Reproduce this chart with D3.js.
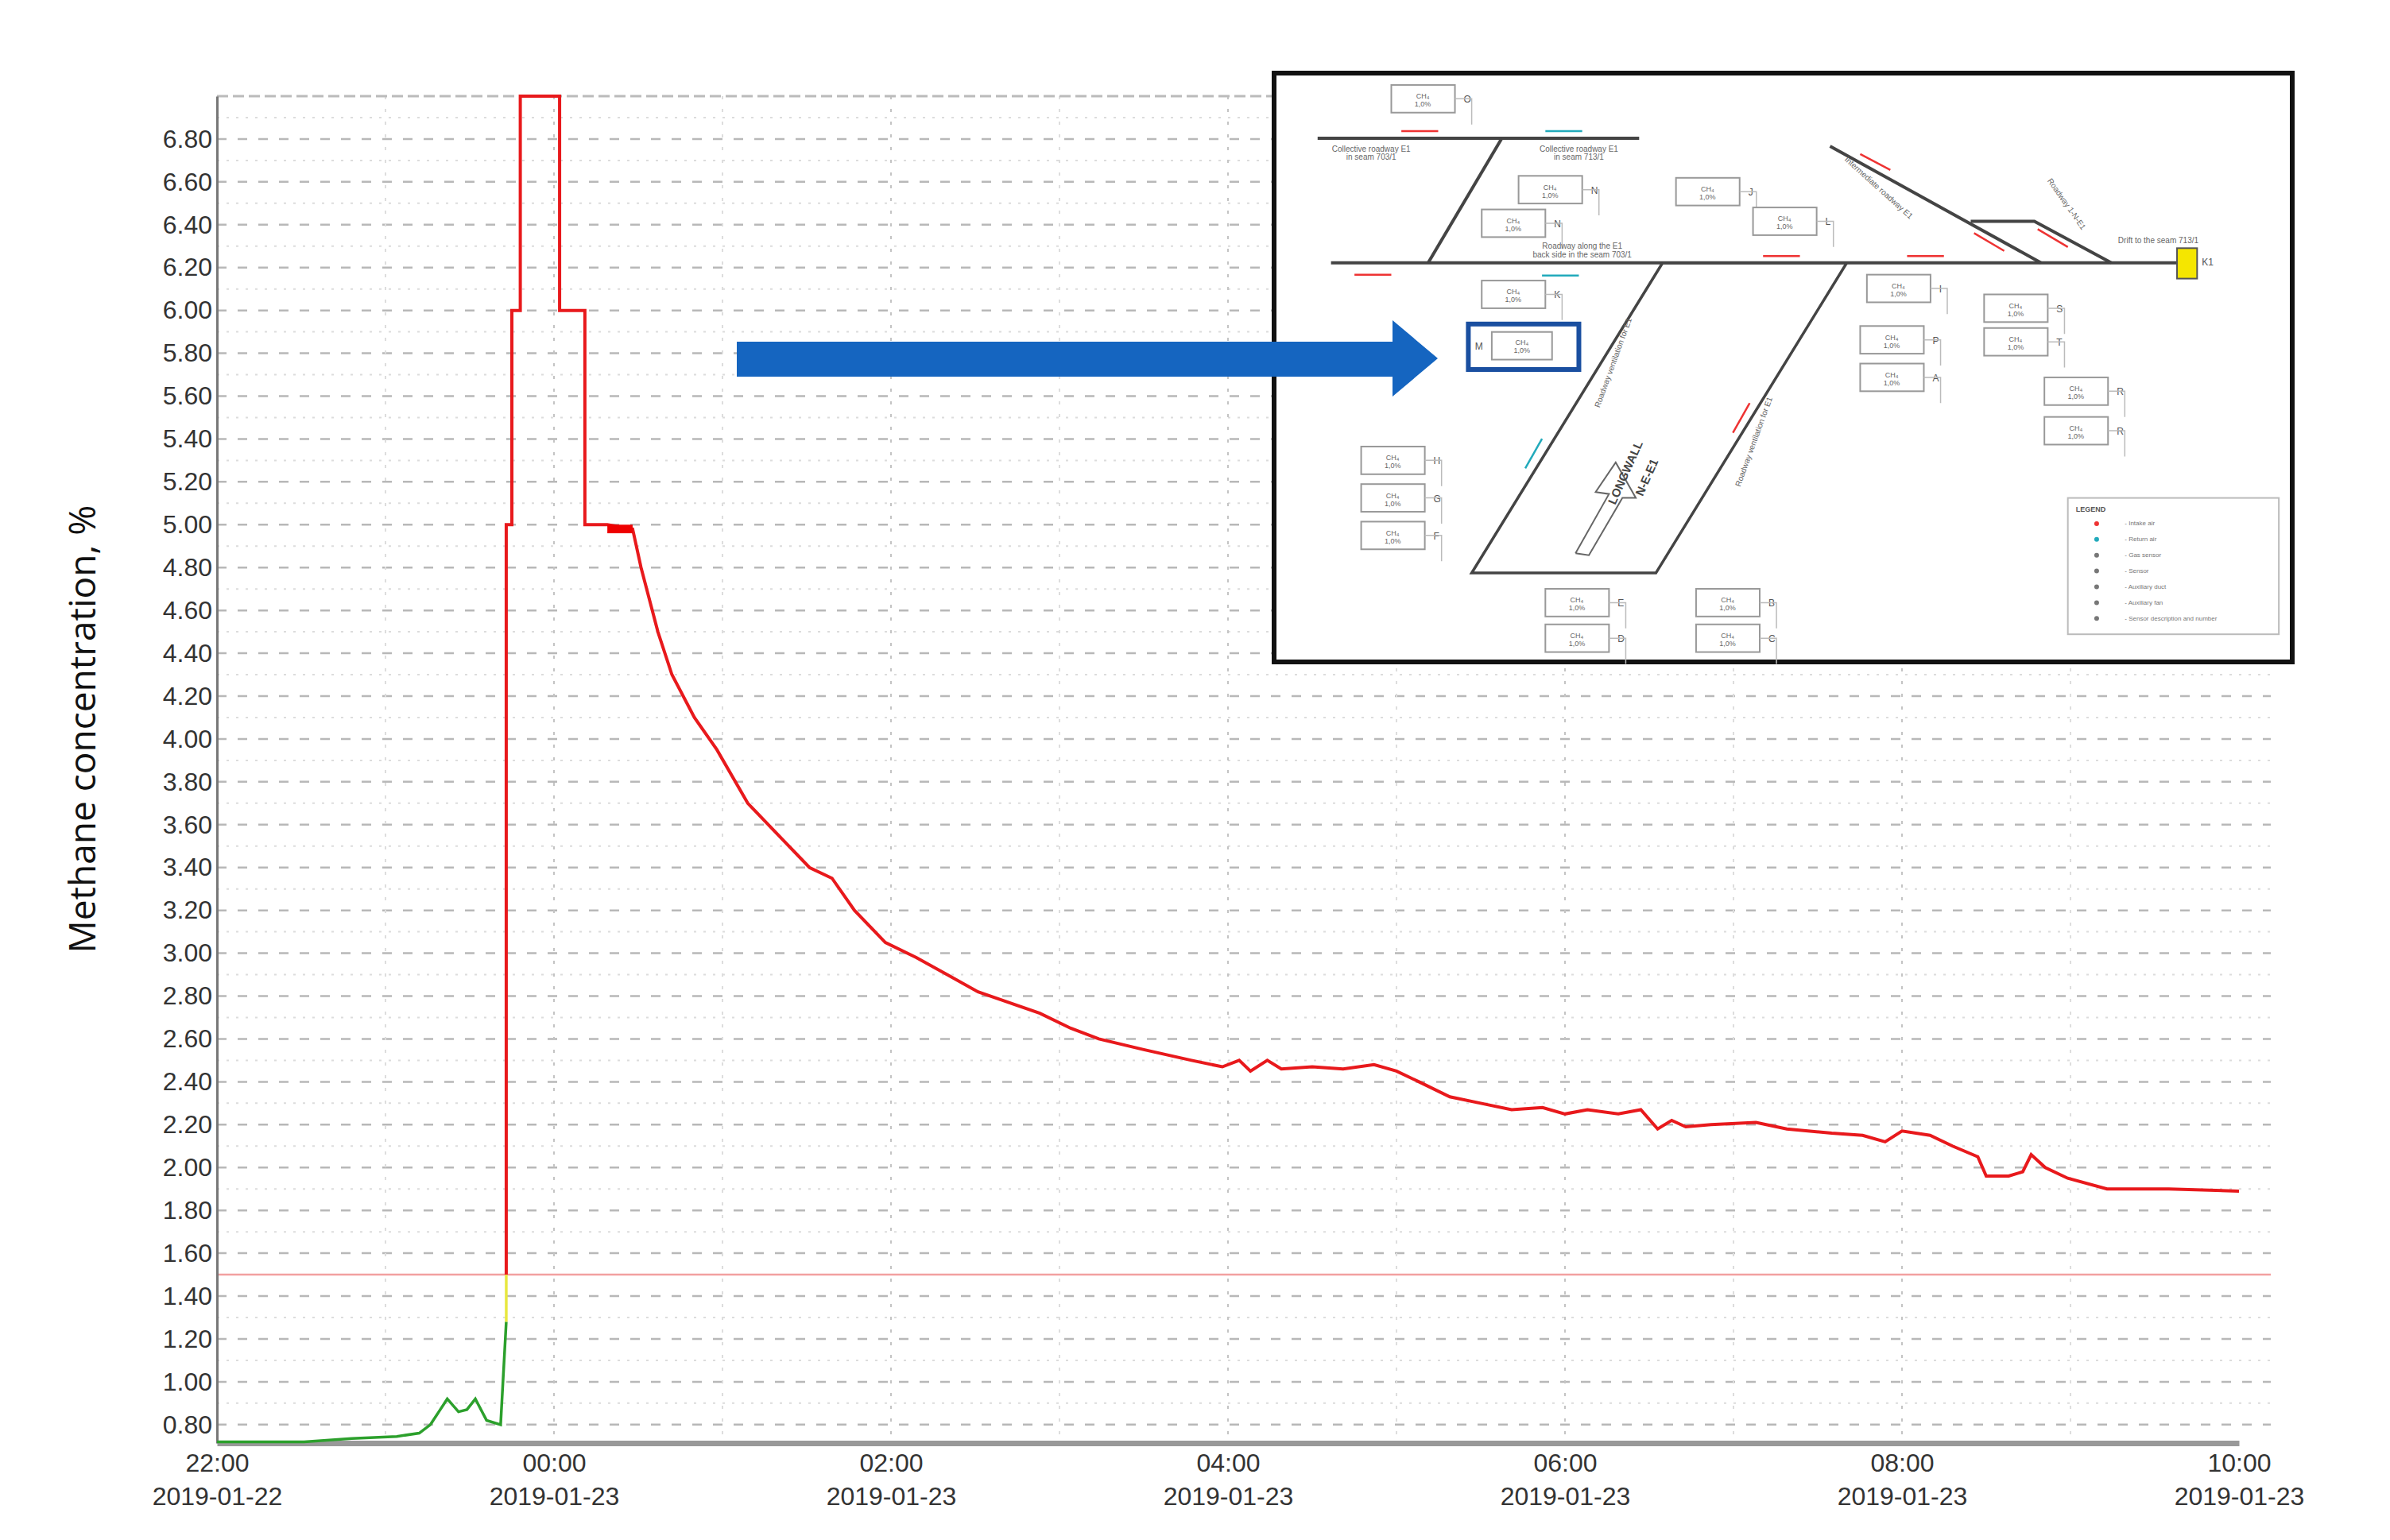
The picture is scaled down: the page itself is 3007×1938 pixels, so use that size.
<!DOCTYPE html>
<html><head><meta charset="utf-8">
<script src="https://cdn.jsdelivr.net/npm/d3@7"></script>
<style>body{margin:0;background:#fff}svg{display:block}svg text{font-family:"Liberation Sans",Arial,sans-serif}</style>
</head><body><div id="chart"></div>
<script>
var width = 3007, height = 1938;
var margin = { left: 273, top: 121, right: 190, bottom: 122 };
var innerW = width - margin.left - margin.right, innerH = height - margin.top - margin.bottom;

// green (below alarm) readings
var greenTimes = ["2019-01-22 22:00","2019-01-22 22:31","2019-01-22 22:48","2019-01-22 23:04","2019-01-22 23:12","2019-01-22 23:16","2019-01-22 23:19","2019-01-22 23:22","2019-01-22 23:26","2019-01-22 23:29","2019-01-22 23:32","2019-01-22 23:36","2019-01-22 23:41","2019-01-22 23:43"];
var greenValues = [0.72,0.72,0.735,0.745,0.76,0.80,0.86,0.92,0.86,0.87,0.92,0.82,0.80,1.28];
// yellow segment
var yellowTimes = ["2019-01-22 23:43","2019-01-22 23:43"];
var yellowValues = [1.28,1.50];
// red (above alarm) readings
var redTimes = ["2019-01-22 23:43","2019-01-22 23:43","2019-01-22 23:45","2019-01-22 23:45","2019-01-22 23:48","2019-01-22 23:48","2019-01-23 00:02","2019-01-23 00:02","2019-01-23 00:11","2019-01-23 00:11","2019-01-23 00:19","2019-01-23 00:28","2019-01-23 00:31","2019-01-23 00:37","2019-01-23 00:42","2019-01-23 00:50","2019-01-23 00:58","2019-01-23 01:09","2019-01-23 01:20","2019-01-23 01:31","2019-01-23 01:39","2019-01-23 01:47","2019-01-23 01:58","2019-01-23 02:09","2019-01-23 02:20","2019-01-23 02:31","2019-01-23 02:42","2019-01-23 02:53","2019-01-23 03:04","2019-01-23 03:14","2019-01-23 03:30","2019-01-23 03:47","2019-01-23 03:58","2019-01-23 04:04","2019-01-23 04:08","2019-01-23 04:14","2019-01-23 04:19","2019-01-23 04:30","2019-01-23 04:41","2019-01-23 04:52","2019-01-23 05:00","2019-01-23 05:08","2019-01-23 05:19","2019-01-23 05:30","2019-01-23 05:41","2019-01-23 05:52","2019-01-23 06:00","2019-01-23 06:08","2019-01-23 06:19","2019-01-23 06:27","2019-01-23 06:33","2019-01-23 06:38","2019-01-23 06:43","2019-01-23 06:52","2019-01-23 07:08","2019-01-23 07:19","2019-01-23 07:35","2019-01-23 07:46","2019-01-23 07:54","2019-01-23 08:00","2019-01-23 08:10","2019-01-23 08:18","2019-01-23 08:27","2019-01-23 08:30","2019-01-23 08:38","2019-01-23 08:43","2019-01-23 08:46","2019-01-23 08:51","2019-01-23 08:59","2019-01-23 09:13","2019-01-23 09:35","2019-01-23 10:00"];
var redValues = [1.50,5.00,5.00,6.00,6.00,7.00,7.00,6.00,6.00,5.00,5.00,4.98,4.80,4.50,4.30,4.10,3.95,3.70,3.55,3.40,3.35,3.20,3.05,2.98,2.90,2.82,2.77,2.72,2.65,2.60,2.55,2.50,2.47,2.50,2.45,2.50,2.46,2.47,2.46,2.48,2.45,2.40,2.33,2.30,2.27,2.28,2.25,2.27,2.25,2.27,2.18,2.22,2.19,2.20,2.21,2.18,2.16,2.15,2.12,2.17,2.15,2.10,2.05,1.96,1.96,1.98,2.06,2.00,1.95,1.90,1.90,1.89];
var alarmLevel = 1.5;
var yTicks = d3.range(0.8, 6.81, 0.2);
var xTickTimes = ["2019-01-22 22:00","2019-01-23 00:00","2019-01-23 02:00","2019-01-23 04:00","2019-01-23 06:00","2019-01-23 08:00","2019-01-23 10:00"];

var parse = d3.timeParse("%Y-%m-%d %H:%M");
var x = d3.scaleTime().domain([parse("2019-01-22 22:00"), parse("2019-01-23 10:00")]).range([0, innerW]);
var y = d3.scaleLinear().domain([0.714, 7.0]).range([innerH, 0]);

var svg = d3.select("#chart").append("svg").attr("width", width).attr("height", height);
var g = svg.append("g").attr("transform", "translate(" + margin.left + "," + margin.top + ")");

// minor grid
g.append("g").selectAll("line").data(d3.range(0.9, 6.95, 0.2)).enter().append("line")
  .attr("x1", 0).attr("x2", innerW + 40).attr("y1", y).attr("y2", y)
  .attr("stroke", "#dcdcdc").attr("stroke-width", 2).attr("stroke-dasharray", "3,9");
g.append("g").selectAll("line").data(yTicks).enter().append("line")
  .attr("x1", 0).attr("x2", innerW + 40).attr("y1", y).attr("y2", y)
  .attr("stroke", "#b8b8b8").attr("stroke-width", 2.5).attr("stroke-dasharray", "12,14");
var hours = d3.timeHour.range(parse("2019-01-22 23:00"), parse("2019-01-23 10:00"));
g.append("g").selectAll("line").data(hours).enter().append("line")
  .attr("x1", x).attr("x2", x).attr("y1", 0).attr("y2", innerH)
  .attr("stroke", function (d) { return d.getHours() % 2 ? "#dddddd" : "#c4c4c4"; })
  .attr("stroke-width", 2).attr("stroke-dasharray", "4,12");
// top border
g.append("line").attr("x1", 0).attr("x2", innerW + 40).attr("y1", 0).attr("y2", 0)
  .attr("stroke", "#bbb").attr("stroke-width", 3).attr("stroke-dasharray", "14,6");
// alarm level
g.append("line").attr("x1", 0).attr("x2", innerW + 40).attr("y1", y(alarmLevel)).attr("y2", y(alarmLevel))
  .attr("stroke", "#f2a0a0").attr("stroke-width", 2.5);

// axes
var yAxis = g.append("g").call(d3.axisLeft(y).tickValues(yTicks).tickFormat(d3.format(".2f")).tickSize(0).tickPadding(6));
yAxis.select(".domain").attr("stroke", "#777").attr("stroke-width", 3);
yAxis.selectAll("text").attr("font-size", 32).attr("fill", "#333");

var xAxis = g.append("g").attr("transform", "translate(0," + innerH + ")")
  .call(d3.axisBottom(x).tickValues(xTickTimes.map(parse)).tickSize(0).tickFormat(""));
xAxis.select(".domain").attr("stroke", "#999").attr("stroke-width", 7);
xAxis.selectAll(".tick").each(function (d) {
  var t = d3.select(this);
  t.append("text").attr("y", 36).attr("text-anchor", "middle").text(d3.timeFormat("%H:%M")(d));
  t.append("text").attr("y", 78).attr("text-anchor", "middle").text(d3.timeFormat("%Y-%m-%d")(d));
});
xAxis.selectAll("text").attr("font-size", 32).attr("fill", "#333");

svg.append("text").attr("transform", "translate(120," + (margin.top + innerH * 0.47) + ") rotate(-90)")
  .attr("text-anchor", "middle").attr("font-size", 46).style("font-family", "Open Sans, Liberation Sans, Arial")
  .attr("fill", "#111").text("Methane concentration, %");

// series
var line = d3.line().x(function (d) { return x(d.t); }).y(function (d) { return y(d.v); });
function series(times, vals) { return times.map(function (t, i) { return { t: parse(t), v: vals[i] }; }); }
g.append("path").datum(series(greenTimes, greenValues)).attr("d", line).attr("fill", "none").attr("stroke", "#2ca02c").attr("stroke-width", 3.5);
g.append("path").datum(series(yellowTimes, yellowValues)).attr("d", line).attr("fill", "none").attr("stroke", "#e8e840").attr("stroke-width", 3.5);
g.append("path").datum(series(redTimes, redValues)).attr("d", line).attr("fill", "none").attr("stroke", "#e8191c").attr("stroke-width", 4);
// thick segment near 5%
g.append("rect").attr("x", x(parse("2019-01-23 00:19"))).attr("y", y(5.0))
  .attr("width", x(parse("2019-01-23 00:28")) - x(parse("2019-01-23 00:19"))).attr("height", y(4.96) - y(5.0)).attr("fill", "#e00");

// inset diagram
var ix = 1603, iy = 92, iw = 1281, ih = 741;
var inset = svg.append("g").attr("transform", "translate(" + ix + "," + iy + ")");
inset.append("rect").attr("width", iw).attr("height", ih).attr("fill", "#fff").attr("stroke", "#111").attr("stroke-width", 6);
var sx = d3.scaleLinear().domain([0, 1520]).range([0, iw]);
var sy = d3.scaleLinear().domain([25, 1515]).range([0, ih]);
var dg = inset.append("g");
function ln(pts, w, c) {
  dg.append("path").attr("d", d3.line().x(function (p) { return sx(p[0]); }).y(function (p) { return sy(p[1]); })(pts))
    .attr("fill", "none").attr("stroke", c || "#444").attr("stroke-width", w || 3);
}
ln([[65, 190], [545, 190]], 4);
ln([[85, 505], [1350, 505]], 4);
ln([[340, 190], [230, 505]], 4);
ln([[580, 505], [855, 505], [570, 1290], [295, 1290], [580, 505]], 3.5);
ln([[830, 210], [1145, 505]], 4);
ln([[1040, 400], [1135, 400], [1250, 505]], 4);
ln([[450, 1240], [500, 1090], [480, 1085], [510, 1010], [540, 1100], [520, 1100], [470, 1245], [450, 1240]], 2, "#666");
var boxes = [[175,55],[365,285],[310,370],[600,290],[715,365],[310,550],[885,535],[875,665],[875,760],[1060,585],[1060,670],[1150,795],[1150,895],[130,970],[130,1065],[130,1160],[405,1330],[405,1420],[630,1330],[630,1420]];
var labels = ["O","N","N","J","L","K","I","P","A","S","T","R","R","H","G","F","E","D","B","C"];
boxes.forEach(function (b, i) {
  dg.append("rect").attr("x", sx(b[0])).attr("y", sy(b[1])).attr("width", sx(95)).attr("height", sy(95) - sy(25))
    .attr("fill", "#fff").attr("stroke", "#999").attr("stroke-width", 2);
  dg.append("text").attr("x", sx(b[0] + 47)).attr("y", sy(b[1] + 35)).attr("text-anchor", "middle")
    .attr("font-size", 9).attr("fill", "#666").text("CH₄");
  dg.append("text").attr("x", sx(b[0] + 47)).attr("y", sy(b[1] + 55)).attr("text-anchor", "middle")
    .attr("font-size", 9).attr("fill", "#666").text("1,0%");
  dg.append("text").attr("x", sx(b[0] + 108)).attr("y", sy(b[1] + 45)).attr("font-size", 12)
    .attr("fill", "#555").text(labels[i]);
  dg.append("path").attr("d", "M" + sx(b[0] + 95) + "," + sy(b[1] + 35) + "h" + sx(25) + "v" + (sy(90) - sy(25)))
    .attr("fill", "none").attr("stroke", "#bbb").attr("stroke-width", 1.5);
});
// highlighted sensor M
dg.append("rect").attr("x", sx(290)).attr("y", sy(660)).attr("width", sx(165)).attr("height", sy(115) - sy(0))
  .attr("fill", "none").attr("stroke", "#1a4fa0").attr("stroke-width", 6);
dg.append("rect").attr("x", sx(325)).attr("y", sy(680)).attr("width", sx(90)).attr("height", sy(70) - sy(0))
  .attr("fill", "#fff").attr("stroke", "#999").attr("stroke-width", 2);
dg.append("text").attr("x", sx(370)).attr("y", sy(712)).attr("text-anchor", "middle").attr("font-size", 9).attr("fill", "#666").text("CH₄");
dg.append("text").attr("x", sx(370)).attr("y", sy(732)).attr("text-anchor", "middle").attr("font-size", 9).attr("fill", "#666").text("1,0%");
dg.append("text").attr("x", sx(300)).attr("y", sy(725)).attr("font-size", 12).attr("fill", "#555").text("M");
// yellow fan box
dg.append("rect").attr("x", sx(1348)).attr("y", sy(468)).attr("width", sx(30)).attr("height", sy(77) - sy(0))
  .attr("fill", "#f5e600").attr("stroke", "#555").attr("stroke-width", 2);
dg.append("text").attr("x", sx(1385)).attr("y", sy(512)).attr("font-size", 12).attr("fill", "#555").text("K1");
// airflow arrows
[[120, 535, "#e33"], [400, 537, "#2ab"], [730, 488, "#e33"], [945, 488, "#e33"], [190, 172, "#e33"], [405, 172, "#2ab"]].forEach(function (a) {
  ln([[a[0], a[1]], [a[0] + 55, a[1]]], 2.5, a[2]);
});
ln([[875, 230], [920, 270]], 2.5, "#e33");
ln([[1045, 430], [1090, 475]], 2.5, "#e33");
ln([[1140, 420], [1185, 465]], 2.5, "#e33");
ln([[375, 1025], [400, 950]], 2.5, "#2ab");
ln([[710, 860], [685, 935]], 2.5, "#e33");
function tx(xx, yy, t, rot) {
  dg.append("text").attr("transform", "translate(" + sx(xx) + "," + sy(yy) + ")" + (rot ? " rotate(" + rot + ")" : ""))
    .attr("text-anchor", "middle").attr("font-size", 10).attr("fill", "#666").text(t);
}
tx(460, 470, "Roadway along the E1"); tx(460, 492, "back side in the seam 703/1");
tx(145, 225, "Collective roadway E1"); tx(145, 245, "in seam 703/1");
tx(455, 225, "Collective roadway E1"); tx(455, 245, "in seam 713/1");
tx(1320, 455, "Drift to the seam 713/1");
tx(510, 760, "Roadway ventilation for E1", -70);
tx(720, 960, "Roadway ventilation for E1", -70);
tx(900, 320, "Intermediate roadway E1", 42);
tx(1180, 360, "Roadway 1-N-E1", 55);
dg.append("text").attr("transform", "translate(" + sx(530) + "," + sy(1040) + ") rotate(-66)").attr("text-anchor", "middle")
  .attr("font-size", 15).attr("font-weight", "bold").attr("fill", "#444").text("LONGWALL");
dg.append("text").attr("transform", "translate(" + sx(562) + "," + sy(1052) + ") rotate(-66)").attr("text-anchor", "middle")
  .attr("font-size", 15).attr("font-weight", "bold").attr("fill", "#444").text("N-E-E1");
// legend box
dg.append("rect").attr("x", sx(1185)).attr("y", sy(1100)).attr("width", sx(315)).attr("height", sy(345) - sy(0))
  .attr("fill", "#fff").attr("stroke", "#bbb").attr("stroke-width", 2);
dg.append("text").attr("x", sx(1197)).attr("y", sy(1135)).attr("font-size", 9).attr("font-weight", "bold").attr("fill", "#555").text("LEGEND");
["Intake air","Return air","Gas sensor","Sensor","Auxiliary duct","Auxiliary fan","Sensor description and number"].forEach(function (t, i) {
  var yy = 1165 + i * 40;
  dg.append("circle").attr("cx", sx(1228)).attr("cy", sy(yy)).attr("r", 3).attr("fill", i === 0 ? "#e33" : i === 1 ? "#2ab" : "#777");
  dg.append("text").attr("x", sx(1270)).attr("y", sy(yy + 5)).attr("font-size", 8).attr("fill", "#777").text("- " + t);
});

// blue arrow (drawn over the inset edge)
svg.append("path").attr("d", "M927,430 L1752,430 L1752,403 L1809,451 L1752,499 L1752,474 L927,474 Z").attr("fill", "#1565c0");
</script></body></html>
